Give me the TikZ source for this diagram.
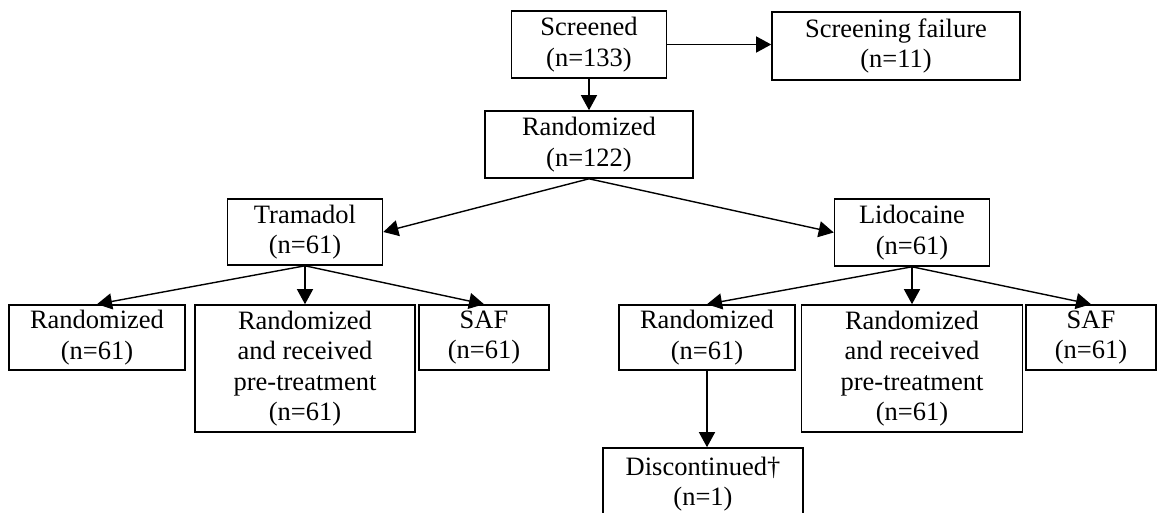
\documentclass[tikz,border=0pt]{standalone}
\usepackage{fontspec}
\setmainfont{Liberation Serif}
\usetikzlibrary{arrows.meta}
\tikzset{
  box/.style={draw, line width=1.6pt, align=center, inner sep=0pt,
    font=\fontsize{26.5}{30.5}\selectfont},
  arr/.style={line width=1.4pt, -{Triangle[length=15pt,width=16pt]}}
}
\begin{document}
\begin{tikzpicture}[x=1pt, y=-1pt]
\useasboundingbox (0,0) rectangle (1157,513);
\clip (0,0) rectangle (1157,513);
\node [box, minimum width=155pt, minimum height=67pt] (scr) at (589,44.5) {Screened\\(n=133)};
\node [box, minimum width=248pt, minimum height=68pt] (fail) at (896,46) {Screening failure\\(n=11)};
\node [box, minimum width=208pt, minimum height=67pt] (rand) at (589,144.5) {Randomized\\(n=122)};
\node [box, minimum width=155pt, minimum height=66pt] (tram) at (305,232) {Tramadol\\(n=61)};
\node [box, minimum width=155pt, minimum height=67pt] (lido) at (912,232.5) {Lidocaine\\(n=61)};
\node [box, minimum width=176pt, minimum height=65pt] (randL) at (97,337.5) {Randomized\\(n=61)};
\node [box, minimum width=220pt, minimum height=127pt] (recvL) at (305,368.5) {Randomized\\and received\\pre-treatment\\(n=61)};
\node [box, minimum width=130pt, minimum height=65pt] (safL) at (484,337.5) {SAF\\(n=61)};
\node [box, minimum width=176pt, minimum height=65pt] (randR) at (707,337.5) {Randomized\\(n=61)};
\node [box, minimum width=221pt, minimum height=127pt] (recvR) at (912,368.5) {Randomized\\and received\\pre-treatment\\(n=61)};
\node [box, minimum width=130pt, minimum height=65pt] (safR) at (1091,337.5) {SAF\\(n=61)};
\node [box, minimum width=200pt, minimum height=72pt] (disc) at (703,484) {Discontinued†\\(n=1)};
\draw [arr] (scr.east) -- (scr.east -| fail.west);
\draw [arr] (scr.south) -- (rand.north);
\draw [arr] (rand.south) -- (tram.east);
\draw [arr] (rand.south) -- (lido.west);
\draw [arr] (tram.south) -- (randL.north);
\draw [arr] (tram.south) -- (recvL.north);
\draw [arr] (tram.south) -- (safL.north);
\draw [arr] (lido.south) -- (randR.north);
\draw [arr] (lido.south) -- (recvR.north);
\draw [arr] (lido.south) -- (safR.north);
\draw [arr] (randR.south) -- (randR.south |- disc.north);
\end{tikzpicture}
\end{document}
